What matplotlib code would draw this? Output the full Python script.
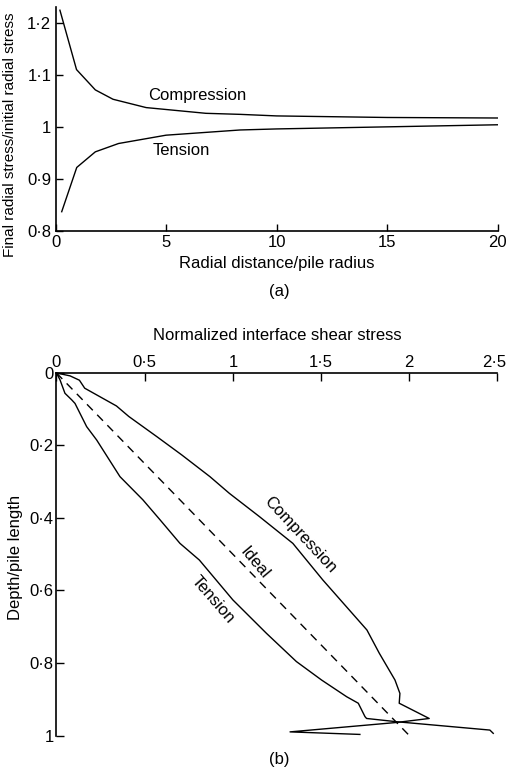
import numpy as np
import matplotlib
matplotlib.use("Agg")
import matplotlib.pyplot as plt
from matplotlib.transforms import ScaledTranslation

plt.rcParams['font.family'] = ['Liberation Sans', 'DejaVu Sans']

# (a) radial stress ratio vs radial distance
r_comp = [0.2, 0.95, 1.8, 2.6, 4.1, 6.8, 8.35, 10, 15, 20]
s_comp = [1.224, 1.11, 1.071, 1.053, 1.037, 1.026, 1.024, 1.021, 1.018, 1.017]
r_tens = [0.28, 0.96, 1.8, 2.85, 5.0, 8.35, 10, 15, 20]
s_tens = [0.837, 0.922, 0.952, 0.968, 0.984, 0.994, 0.996, 1.0, 1.004]

# (b) normalized interface shear stress vs depth
tau_comp = [0, 0.077, 0.13, 0.16, 0.34, 0.41, 0.57, 0.71, 0.87, 0.98, 1.15, 1.34,
            1.51, 1.76, 1.83, 1.919, 1.947, 1.943, 2.113, 1.929, 1.324, 1.72]
z_comp = [0, 0.008, 0.02, 0.042, 0.091, 0.12, 0.176, 0.226, 0.286, 0.332, 0.396, 0.47,
          0.571, 0.709, 0.773, 0.847, 0.884, 0.911, 0.953, 0.964, 0.990, 0.997]
tau_tens = [0, 0.02, 0.048, 0.086, 0.105, 0.171, 0.228, 0.36, 0.49, 0.587, 0.70, 0.81,
            1.0, 1.19, 1.36, 1.503, 1.645, 1.711, 1.749, 1.758, 1.929, 2.457, 2.476]
z_tens = [0, 0.019, 0.056, 0.074, 0.084, 0.148, 0.185, 0.286, 0.35, 0.405, 0.47, 0.516,
          0.626, 0.718, 0.796, 0.847, 0.893, 0.911, 0.948, 0.953, 0.962, 0.985, 0.994]
tau_ideal = [0, 2.0]
z_ideal = [0, 1.0]

xt_a = [0, 5, 10, 15, 20]
yt_a = [0.8, 0.9, 1.0, 1.1, 1.2]
yl_a = ['0·8', '0·9', '1', '1·1', '1·2']
xt_b = [0, 0.5, 1, 1.5, 2, 2.5]
xl_b = ['0', '0·5', '1', '1·5', '2', '2·5']
yt_b = [0, 0.2, 0.4, 0.6, 0.8, 1.0]
yl_b = ['0', '0·2', '0·4', '0·6', '0·8', '1']

fig = plt.figure(figsize=(5.07, 7.73), dpi=100)

# --- (a)
ax1 = fig.add_axes([0.1095, 0.7012, 0.8722, 0.2896])
ax1.plot(r_comp, s_comp, color='black', lw=1.0)
ax1.plot(r_tens, s_tens, color='black', lw=1.0)
ax1.set_xlim(0, 20)
ax1.set_ylim(0.8, 1.23)
ax1.set_xticks(xt_a)
ax1.set_yticks(yt_a)
ax1.set_yticklabels(yl_a)
for s in ['top', 'right']:
    ax1.spines[s].set_visible(False)
for s in ['left', 'bottom']:
    ax1.spines[s].set_linewidth(1.2)
ax1.tick_params(direction='in', length=5, width=1, labelsize=12, pad=3)
ax1.set_xlabel('Radial distance/pile radius', fontsize=12)
ax1.set_ylabel('Final radial stress/initial radial stress', fontsize=11)
ax1.yaxis.set_label_coords(-0.087, 0.43)
ax1.xaxis.set_label_coords(0.5, -0.112)
ax1.text(6.4, 1.061, 'Compression', fontsize=12, ha='center', va='center')
ax1.text(5.68, 0.955, 'Tension', fontsize=12, ha='center', va='center')
fig.text(0.55, 0.623, '(a)', fontsize=12, ha='center', va='center')

# --- (b)
ax2 = fig.add_axes([0.1114, 0.0485, 0.8698, 0.469])
ax2.plot(tau_comp, z_comp, color='black', lw=1.0, clip_on=False)
ax2.plot(tau_tens, z_tens, color='black', lw=1.0, clip_on=False)
ax2.plot(tau_ideal, z_ideal, color='black', lw=1.0, ls=(0, (6, 4.5)), clip_on=False)
ax2.set_xlim(0, 2.5)
ax2.set_ylim(1.0, 0)
ax2.xaxis.tick_top()
ax2.xaxis.set_label_position('top')
ax2.set_xticks(xt_b)
ax2.set_xticklabels(xl_b)
ax2.set_yticks(yt_b)
ax2.set_yticklabels(yl_b)
for s in ['bottom', 'right']:
    ax2.spines[s].set_visible(False)
for s in ['left', 'top']:
    ax2.spines[s].set_linewidth(1.2)
ax2.tick_params(direction='in', length=6, width=1, labelsize=12, pad=2)
# keep the last tick label inside the canvas
last = ax2.get_xticklabels()[-1]
last.set_transform(last.get_transform() + ScaledTranslation(-3 / 100, 0, fig.dpi_scale_trans))
ax2.set_xlabel('Normalized interface shear stress', fontsize=12)
ax2.xaxis.set_label_coords(0.5, 1.091)
ax2.set_ylabel('Depth/pile length', fontsize=12)
ax2.yaxis.set_label_coords(-0.076, 0.49)
ax2.text(1.38, 0.447, 'Compression', fontsize=12, ha='center', va='center', rotation=-47)
ax2.text(1.125, 0.524, 'Ideal', fontsize=12, ha='center', va='center', rotation=-50)
ax2.text(0.887, 0.626, 'Tension', fontsize=12, ha='center', va='center', rotation=-49)
fig.text(0.55, 0.017, '(b)', fontsize=12, ha='center', va='center')

fig.savefig('out.png', dpi=100)
